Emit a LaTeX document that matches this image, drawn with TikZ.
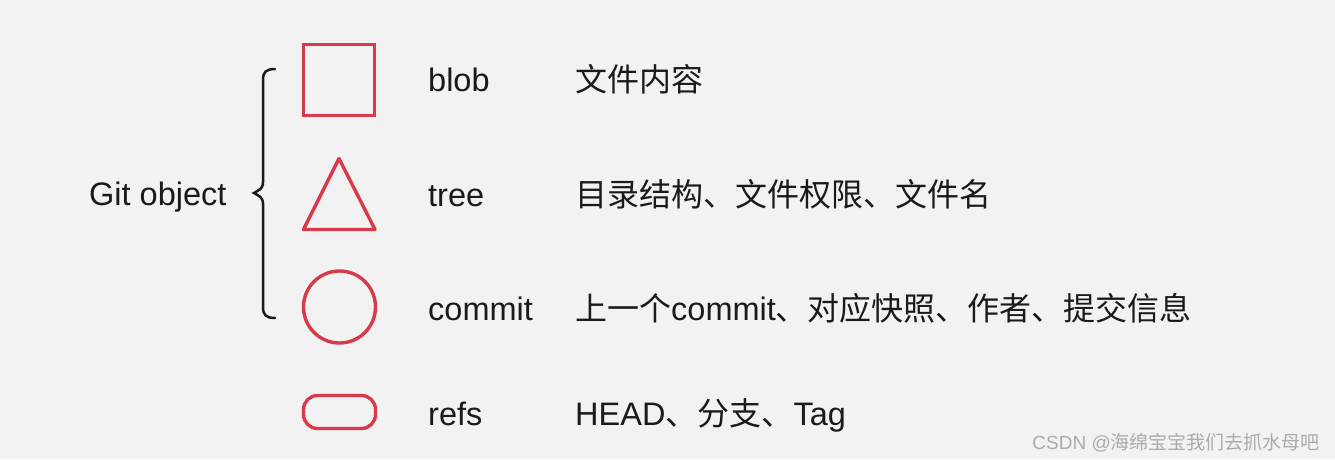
\documentclass[tikz,border=0pt]{standalone}
\usepackage{fontspec}
\setmainfont{Liberation Sans}
\newfontfamily\cjk{Noto Sans CJK SC}
\definecolor{objred}{HTML}{D63A4B}
\definecolor{bggray}{HTML}{F2F2F2}
\definecolor{inkblack}{HTML}{1A1A1A}
\definecolor{markgray}{HTML}{ABABAB}

\begin{document}
\begin{tikzpicture}[x=1pt,y=-1pt]
    \tikzstyle{objshape}=[draw=objred,line width=3.4pt,fill=none,inner sep=0pt]
    \tikzstyle{word}=[anchor=base west,text=inkblack,inner sep=0pt,font=\fontsize{32.5}{38}\selectfont]
    \tikzstyle{cjkword}=[word,font=\fontsize{32}{38}\selectfont\cjk]
    \fill[bggray] (0,0) rectangle (1335,459);
    \useasboundingbox (0,0) rectangle (1335,459);

    % the four kinds of object
    \node[objshape,minimum size=71pt] (blob-box) at (339,80) {};
    \draw[objred,line width=3.4pt,line join=round]
        (339,158.5) coordinate (tree-top) -- (375,229.5) -- (303.5,229.5) -- cycle;
    \node[objshape,circle,minimum size=72pt] (commit-ring) at (339.5,307) {};
    \node[objshape,rounded corners=14pt,minimum width=72pt,minimum height=33pt] (refs-pill) at (339.5,412) {};

    \foreach \name/\y in {blob/91, tree/206, commit/320, refs/425}
        \node[word] (\name-label) at (428,\y) {\name};

    \node[cjkword] (blob-desc) at (575,91) {文件内容};
    \node[cjkword] (tree-desc) at (575,206) {目录结构、文件权限、文件名};
    \node[word] (commit-desc) at (575,320) {{\cjk\fontsize{32}{38}\selectfont 上一个}commit{\cjk\fontsize{32}{38}\selectfont 、对应快照、作者、提交信息}};
    \node[word] (refs-desc) at (575,425) {HEAD{\cjk\fontsize{32}{38}\selectfont 、分支、}Tag};

    % brace round the three git objects
    \node[word] (git-object) at (89,205) {Git object};
    \draw[inkblack,line width=2.5pt,line cap=round]
        (275,69) .. controls (266,69) and (263,72) .. (263,80) -- (263,182)
        .. controls (263,189) and (259,190) .. (254,193)
        .. controls (259,196) and (263,197) .. (263,204) -- (263,307)
        .. controls (263,315) and (266,318) .. (275,318);

    \node[anchor=base east,text=markgray,inner sep=0pt,font=\fontsize{19}{22}\selectfont] (csdn-mark) at (1320,449)
        {CSDN @{\cjk 海绵宝宝我们去抓水母吧}};
\end{tikzpicture}
\end{document}
